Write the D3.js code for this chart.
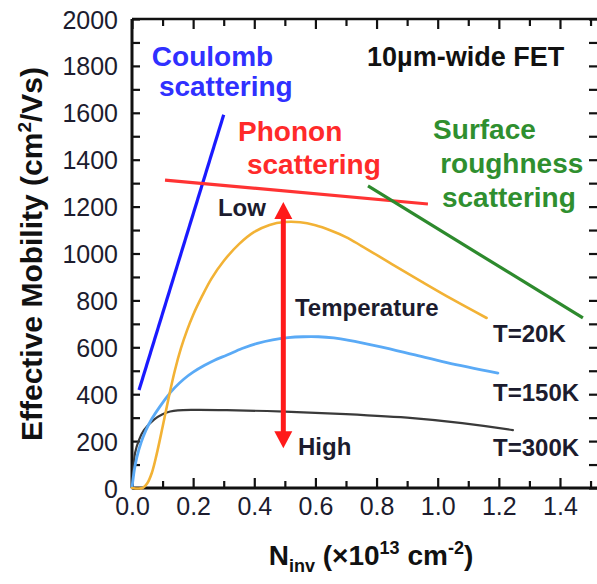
<!DOCTYPE html>
<html>
<head>
<meta charset="utf-8">
<script src="https://cdn.jsdelivr.net/npm/d3@7"></script>
<style>
  html, body { margin: 0; padding: 0; background: #fff; }
  svg { display: block; }
  text { font-family: "Liberation Sans", Arial, Helvetica, sans-serif; }
</style>
</head>
<body>
<svg id="chart" width="597" height="584"></svg>
<script>
// Inversion-layer density (x10^13 cm^-2) and effective mobility (cm^2/Vs)
const n20K  = [0, 0.035, 0.05, 0.065, 0.08, 0.1, 0.12, 0.14, 0.16, 0.18, 0.2, 0.23, 0.26, 0.3, 0.35, 0.4, 0.45, 0.5, 0.55, 0.6, 0.65, 0.7, 0.75, 0.85, 0.95, 1.05, 1.16];
const mu20K = [0, 0, 20, 65, 140, 260, 385, 500, 595, 672, 738, 820, 893, 968, 1040, 1092, 1122, 1134, 1133, 1120, 1098, 1070, 1033, 955, 878, 803, 725];

const n150K  = [0, 0.008, 0.016, 0.03, 0.045, 0.065, 0.09, 0.115, 0.14, 0.17, 0.2, 0.236, 0.27, 0.311, 0.36, 0.41, 0.46, 0.51, 0.56, 0.61, 0.66, 0.71, 0.81, 0.918, 1.03, 1.197];
const mu150K = [0, 80, 132, 195, 245, 295, 345, 390, 428, 465, 494, 522, 545, 567, 595, 617, 632, 641, 645, 645, 640, 630, 603, 570, 535, 490];

const n300K  = [0, 0.01, 0.023, 0.039, 0.072, 0.1, 0.125, 0.15, 0.2, 0.31, 0.5, 0.70, 0.918, 1.08, 1.246];
const mu300K = [0, 149, 205, 247, 292, 315, 326, 331, 333, 332, 326, 315, 298, 277, 247];

// Scattering-limit guide lines
const coulombN  = [0.023, 0.30];
const coulombMu = [418, 1592];
const phononN   = [0.108, 0.968];
const phononMu  = [1313, 1211];
const surfaceN  = [0.772, 1.475];
const surfaceMu = [1288, 725];

// Temperature arrow (Low -> High)
const arrowN  = 0.495;
const arrowMu = [1220, 170];

// Axis ticks
const xMajor = [0, 0.2, 0.4, 0.6, 0.8, 1.0, 1.2, 1.4];
const xMinor = [0.1, 0.3, 0.5, 0.7, 0.9, 1.1, 1.3, 1.5];
const yMajor = [0, 200, 400, 600, 800, 1000, 1200, 1400, 1600, 1800, 2000];
const yMinor = [100, 300, 500, 700, 900, 1100, 1300, 1500, 1700, 1900];

const svg = d3.select("#chart");
const plotLeft = 132, plotTop = 19, plotBottom = 488;

const x = d3.scaleLinear().domain([0, 1.5]).range([plotLeft, plotLeft + 1.5 * 305.7]);
const y = d3.scaleLinear().domain([0, 2000]).range([plotBottom, plotTop]);
const frameRight = 598;

const TEXT = "#1c1c2e";

// ---- axes ----
function styleAxis(g, width) {
  g.selectAll(".domain").attr("stroke", "#111").attr("stroke-width", width);
  g.selectAll(".tick line").attr("stroke", "#111").attr("stroke-width", 2.2);
  g.selectAll(".tick text")
    .attr("fill", TEXT)
    .style("font-size", "25px")
    .style("font-family", '"Liberation Sans", Arial, sans-serif');
}

// bottom
const gB = svg.append("g").attr("transform", `translate(0,${plotBottom})`)
  .call(d3.axisBottom(x).tickValues(xMajor).tickSize(-10).tickSizeOuter(0)
        .tickPadding(9).tickFormat(d3.format(".1f")));
styleAxis(gB, 3);
gB.select(".domain").attr("d", `M${plotLeft},0H${frameRight}`);
const gBm = svg.append("g").attr("transform", `translate(0,${plotBottom})`)
  .call(d3.axisBottom(x).tickValues(xMinor).tickSize(-7).tickFormat(""));
gBm.select(".domain").remove();
styleAxis(gBm, 0);

// top
const gT = svg.append("g").attr("transform", `translate(0,${plotTop})`)
  .call(d3.axisTop(x).tickValues(xMajor.concat(xMinor)).tickSize(-9).tickSizeOuter(0).tickFormat(""));
styleAxis(gT, 2.5);
gT.select(".domain").attr("d", `M${plotLeft},0H${frameRight}`);
gT.selectAll(".tick line").attr("y2", d => xMinor.includes(d) ? 7 : 10);

// left
const gL = svg.append("g").attr("transform", `translate(${plotLeft},0)`)
  .call(d3.axisLeft(y).tickValues(yMajor).tickSize(-8).tickSizeOuter(0)
        .tickPadding(14).tickFormat(d3.format("d")));
styleAxis(gL, 3);
gL.select(".domain").attr("d", `M0,${plotTop}V${plotBottom}`);
gL.selectAll(".tick text").attr("dy", "0.36em");
const gLm = svg.append("g").attr("transform", `translate(${plotLeft},0)`)
  .call(d3.axisLeft(y).tickValues(yMinor).tickSize(-8).tickFormat(""));
gLm.select(".domain").remove();
styleAxis(gLm, 0);

// right
const gR = svg.append("g").attr("transform", `translate(${frameRight},0)`)
  .call(d3.axisRight(y).tickValues(yMajor.concat(yMinor)).tickSize(-9).tickSizeOuter(0).tickFormat(""));
styleAxis(gR, 2.5);

// ---- axis titles ----
const yTitle = svg.append("text")
  .attr("transform", `translate(42,254) rotate(-90)`)
  .attr("text-anchor", "middle")
  .attr("fill", "#111")
  .style("font-weight", "bold")
  .style("font-size", "30px");
yTitle.append("tspan").text("Effective Mobility (cm");
yTitle.append("tspan").attr("dy", -11).style("font-size", "19px").text("2");
yTitle.append("tspan").attr("dy", 11).text("/Vs)");

const xTitle = svg.append("text")
  .attr("x", 371).attr("y", 565)
  .attr("text-anchor", "middle")
  .attr("fill", "#111")
  .style("font-weight", "bold")
  .style("font-size", "28px");
xTitle.append("tspan").text("N");
xTitle.append("tspan").attr("dy", 7).style("font-size", "18px").text("inv");
xTitle.append("tspan").attr("dy", -7).text(" (×10");
xTitle.append("tspan").attr("dy", -11).style("font-size", "18px").text("13");
xTitle.append("tspan").attr("dy", 11).text(" cm");
xTitle.append("tspan").attr("dy", -11).style("font-size", "18px").text("-2");
xTitle.append("tspan").attr("dy", 11).text(")");

// ---- curves ----
const line = d3.line().x(d => x(d[0])).y(d => y(d[1])).curve(d3.curveCatmullRom.alpha(0.5));
const zip = (a, b) => a.map((v, i) => [v, b[i]]);

const curves = [
  { n: n300K, mu: mu300K, color: "#3a3a3a", w: 2.2 },
  { n: n150K, mu: mu150K, color: "#5aaaf6", w: 2.8 },
  { n: n20K,  mu: mu20K,  color: "#f2b235", w: 2.6 }
];
curves.forEach(c => {
  svg.append("path")
    .datum(zip(c.n, c.mu))
    .attr("d", line)
    .attr("fill", "none")
    .attr("stroke", c.color)
    .attr("stroke-width", c.w)
    .attr("stroke-linecap", "round");
});

// ---- scattering limit lines ----
const guides = [
  { n: coulombN, mu: coulombMu, color: "#1a1aff" },
  { n: phononN,  mu: phononMu,  color: "#ff3333" },
  { n: surfaceN, mu: surfaceMu, color: "#2d8a2d" }
];
const straight = d3.line().x(d => x(d[0])).y(d => y(d[1]));
guides.forEach(g => {
  svg.append("path")
    .datum(zip(g.n, g.mu))
    .attr("d", straight)
    .attr("fill", "none")
    .attr("stroke", g.color)
    .attr("stroke-width", 3.2);
});

// ---- temperature arrow ----
const ax = x(arrowN);
const yTop = y(arrowMu[0]), yBot = y(arrowMu[1]);
const headL = 17, headW = 9;
svg.append("line")
  .attr("x1", ax).attr("x2", ax)
  .attr("y1", yTop + headL - 1).attr("y2", yBot - headL + 1)
  .attr("stroke", "#ff1a1a").attr("stroke-width", 5);
svg.append("path")
  .attr("d", `M${ax},${yTop}L${ax - headW},${yTop + headL}L${ax + headW},${yTop + headL}Z`)
  .attr("fill", "#ff1a1a");
svg.append("path")
  .attr("d", `M${ax},${yBot}L${ax - headW},${yBot - headL}L${ax + headW},${yBot - headL}Z`)
  .attr("fill", "#ff1a1a");

// ---- annotations ----
const notes = [
  { t: "Coulomb",        n: 0.065, mu: 1800, c: "#3030ff", s: 28 },
  { t: "scattering",     n: 0.088, mu: 1672, c: "#3030ff", s: 28 },
  { t: "10µm-wide FET",  n: 0.769, mu: 1800, c: "#111",    s: 27 },
  { t: "Phonon",         n: 0.347, mu: 1480, c: "#ff2a2a", s: 28 },
  { t: "scattering",     n: 0.376, mu: 1337, c: "#ff2a2a", s: 28 },
  { t: "Surface",        n: 0.985, mu: 1488, c: "#2f8f2f", s: 28 },
  { t: "roughness",      n: 1.008, mu: 1343, c: "#2f8f2f", s: 28 },
  { t: "scattering",     n: 1.014, mu: 1198, c: "#2f8f2f", s: 28 },
  { t: "Low",            n: 0.281, mu: 1160, c: TEXT,      s: 24 },
  { t: "Temperature",    n: 0.533, mu: 733,  c: TEXT,      s: 24 },
  { t: "High",           n: 0.543, mu: 141,  c: TEXT,      s: 24 },
  { t: "T=20K",          n: 1.181, mu: 623,  c: TEXT,      s: 24 },
  { t: "T=150K",         n: 1.181, mu: 371,  c: TEXT,      s: 24 },
  { t: "T=300K",         n: 1.181, mu: 136,  c: TEXT,      s: 24 }
];
svg.append("g").selectAll("text").data(notes).join("text")
  .attr("x", d => x(d.n))
  .attr("y", d => y(d.mu))
  .attr("fill", d => d.c)
  .style("font-weight", "bold")
  .style("font-size", d => d.s + "px")
  .text(d => d.t);
</script>
</body>
</html>
